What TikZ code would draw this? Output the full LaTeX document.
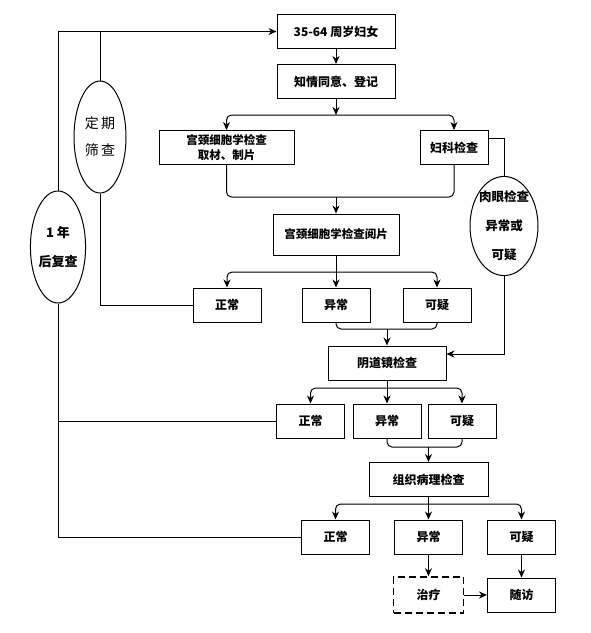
\documentclass[tikz,border=0pt]{standalone}
\usepackage{fontspec}
\setmainfont{Noto Sans CJK SC}
\usetikzlibrary{arrows.meta,shapes.geometric}
\begin{document}
\begin{tikzpicture}[x=1pt,y=-1pt,line width=1pt,
    box/.style={draw,minimum width=#1,minimum height=34pt,inner sep=1pt,font=\bfseries\fontsize{12}{14}\selectfont},
    box/.default=68pt,
    oval/.style={draw,ellipse,inner sep=0pt,align=center},
    arr/.style={-{Stealth[length=8pt,width=7pt]}},
    elbow/.style={rounded corners=5pt}]
    \useasboundingbox (0,0) rectangle (591,633);
    \node[box=118pt] (women) at (336,31.5) {35-64 周岁妇女};
    \node[box=118pt] (consent) at (336,81.5) {知情同意、登记};
    \node[box=135pt,align=center,font=\bfseries\fontsize{11.5}{15}\selectfont] (cyto) at (226.5,147.5) {宫颈细胞学检查\\取材、制片};
    \node[box] (gyn) at (454,147.5) {妇科检查};
    \node[box=126pt,minimum height=41pt,font=\bfseries\fontsize{11.5}{13}\selectfont] (read) at (336,234.5) {宫颈细胞学检查阅片};
    \node[box] (norm1) at (227,305) {正常};
    \node[box] (abn1) at (336,305) {异常};
    \node[box] (susp1) at (437,305) {可疑};
    \node[box=118pt] (colpo) at (387,363) {阴道镜检查};
    \node[box] (norm2) at (310.5,421) {正常};
    \node[box] (abn2) at (387,421) {异常};
    \node[box] (susp2) at (462,421) {可疑};
    \node[box=119pt] (histo) at (428.5,479.5) {组织病理检查};
    \node[box] (norm3) at (335.5,537) {正常};
    \node[box] (abn3) at (428.5,537) {异常};
    \node[box] (susp3) at (521.5,537) {可疑};
    \node[box=70pt,minimum height=36pt,line width=1.6pt,dash pattern=on 7pt off 4pt] (treat) at (428.5,595) {治疗};
    \node[box] (visit) at (521.5,595) {随访};
    \node[oval,minimum width=52pt,minimum height=112pt,font=\fontsize{14}{27}\selectfont] (regular) at (100,137) {定\,期\\筛\,查};
    \node[oval,minimum width=50pt,minimum height=112pt,font=\bfseries\fontsize{13}{29}\selectfont] (recheck) at (58,247) {1 年\\后复查};
    \node[oval,minimum width=68pt,minimum height=92pt,inner xsep=-8pt,font=\bfseries\fontsize{12.5}{29}\selectfont] (naked) at (504,226) {肉眼检查\\异常或\\可疑};
    \coordinate (fork1) at (336,115);
    \coordinate (join1) at (336,197);
    \coordinate (fork2) at (336,272);
    \coordinate (join2) at (387,329);
    \coordinate (fork3) at (387,388);
    \coordinate (join3) at (428.5,447);
    \coordinate (fork4) at (428.5,504);
    \draw[arr] (women) -- (consent);
    \draw[arr] (consent) -- (fork1);
    \draw[arr,elbow] (fork1) -| (cyto);
    \draw[arr,elbow] (fork1) -| (gyn);
    \draw[elbow] (cyto) |- (join1) -| (gyn);
    \draw[arr] (join1) -- (read);
    \draw[arr] (read) -- (abn1);
    \draw[arr,elbow] (fork2) -| (norm1);
    \draw[arr,elbow] (fork2) -| (susp1);
    \draw[elbow] (abn1) |- (join2) -| (susp1);
    \draw[arr] (join2) -- (colpo);
    \draw[arr] (colpo) -- (abn2);
    \draw[arr,elbow] (fork3) -| (norm2);
    \draw[arr,elbow] (fork3) -| (susp2);
    \draw[elbow] (abn2) |- (join3) -| (susp2);
    \draw[arr] (join3) -- (histo);
    \draw[arr] (histo) -- (abn3);
    \draw[arr,elbow] (fork4) -| (norm3);
    \draw[arr,elbow] (fork4) -| (susp3);
    \draw[arr] (abn3) -- (treat);
    \draw[arr] (susp3) -- (visit);
    \draw[arr] (treat) -- (visit);
    \draw ([yshift=9pt]gyn.east) -| (naked);
    \draw[arr] (naked) |- ([yshift=9pt]colpo.east);
    \draw[arr] (recheck) |- (women);
    \draw (regular) -- (regular |- women);
    \draw (regular) |- (norm1);
    \draw (recheck) |- (norm3);
    \draw (norm2) -- (norm2 -| recheck);
\end{tikzpicture}
\end{document}
